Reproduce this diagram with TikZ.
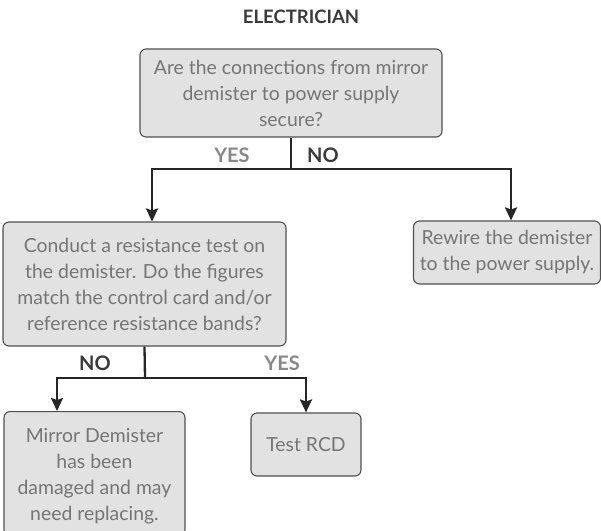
\documentclass[tikz,border=0pt]{standalone}
\usepackage{fontspec}
\setmainfont{Lato}
\usetikzlibrary{arrows.meta,calc}
\definecolor{boxfill}{HTML}{E2E2E2}
\definecolor{boxline}{HTML}{505050}
\definecolor{boxtext}{HTML}{757575}
\definecolor{darklab}{HTML}{3A3A3A}
\definecolor{lightlab}{HTML}{888888}
\definecolor{linecol}{HTML}{262626}
\begin{document}
\begin{tikzpicture}[x=1pt,y=-1pt,
  box/.style={draw=boxline,line width=1.1pt,fill=boxfill,rounded corners=6pt,
    text=boxtext,align=center,font=\fontsize{19.4}{26}\selectfont,inner sep=0pt},
  lab/.style={font=\fontsize{20}{22}\selectfont\bfseries},
  conn/.style={draw=linecol,line width=2.3pt},
  arr/.style={conn,-{Stealth[length=13pt,width=12pt,inset=2pt]}}]
\clip (0,0) rectangle (601,530);
\useasboundingbox (0,0) rectangle (601,530);
\node[font=\fontsize{18.5}{20}\selectfont\bfseries,text=darklab] (title) at (301,17) {ELECTRICIAN};
\node[box,minimum width=302pt,minimum height=88pt] (b1) at (291,93)
  {Are the connections from mirror\\demister to power supply\\secure?};
\node[box,minimum width=283pt,minimum height=124pt] (b2) at (144.5,284)
  {Conduct a resistance test on\\the demister. Do the figures\\match the control card and/or\\reference resistance bands?};
\node[box,minimum width=187pt,minimum height=63pt] (b3) at (507,252.5)
  {Rewire the demister\\to the power supply.};
\node[box,minimum width=181pt,minimum height=124pt,anchor=north] (b4) at (94.5,411)
  {\\[-6pt]Mirror Demister\\has been\\damaged and may\\need replacing.};
\node[box,minimum width=110pt,minimum height=63pt] (b5) at (306,444.5) {Test RCD};
\coordinate (j1) at (291,169);
\coordinate (j2) at (145,378);
\draw[conn] (b1.south) -- (j1);
\draw[arr] (j1) -| ([xshift=7.5pt]b2.north);
\draw[arr] (j1) -| ([xshift=4pt]b3.north);
\draw[conn] (b2.south) -- (j2);
\draw[arr] (j2) -| ([xshift=-37.5pt]b4.north);
\draw[arr] (j2) -| (b5.north);
\node[lab,text=lightlab] (y1) at (232,155) {YES};
\node[lab,text=darklab] (n1) at (323,155) {NO};
\node[lab,text=darklab] (n2) at (95,363) {NO};
\node[lab,text=lightlab] (y2) at (282,363) {YES};
\end{tikzpicture}
\end{document}
